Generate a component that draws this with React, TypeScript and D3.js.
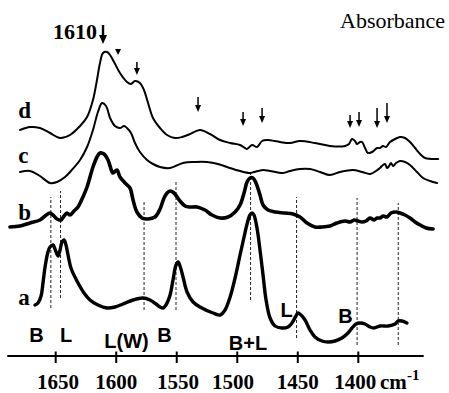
import React, { useEffect } from 'react';
import * as d3 from 'd3';

// ---- data (wavenumber in cm-1, absorbance in arbitrary offset units) ----
const dWn = [1679.5,1671.2,1663.0,1654.7,1646.4,1638.2,1629.9,1624.1,1619.2,1615.9,1613.4,1610.9,1607.6,1605.1,1601.8,1596.9,1591.1,1587.8,1584.5,1580.4,1577.1,1573.7,1569.6,1563.8,1558.0,1551.5,1545.6,1539.0,1530.8,1522.5,1514.2,1505.9,1497.7,1493.6,1491.9,1487.8,1483.7,1479.5,1475.4,1464.7,1456.4,1448.2,1435.8,1423.4,1411.0,1407.7,1405.2,1402.7,1401.1,1398.6,1396.9,1394.4,1392.0,1388.6,1384.5,1382.1,1379.6,1377.1,1373.8,1369.6,1365.5,1361.4,1357.3,1353.1,1348.9,1344.8,1334.0];
const dAbs = [2.26,2.29,2.28,2.23,2.18,2.21,2.30,2.39,2.56,2.76,2.93,3.03,3.04,3.01,2.94,2.83,2.74,2.72,2.75,2.73,2.66,2.53,2.38,2.28,2.21,2.18,2.19,2.22,2.26,2.22,2.16,2.13,2.11,2.08,2.07,2.11,2.09,2.15,2.16,2.14,2.13,2.15,2.13,2.10,2.10,2.12,2.17,2.15,2.12,2.14,2.14,2.08,2.03,2.04,2.08,2.08,2.10,2.09,2.14,2.17,2.19,2.18,2.14,2.08,2.02,1.98,1.97];

const cWn = [1679.5,1671.2,1663.0,1654.7,1648.9,1642.3,1638.2,1629.9,1624.1,1619.2,1615.1,1611.7,1608.4,1605.1,1601.0,1596.9,1593.6,1591.1,1587.8,1584.5,1580.4,1574.5,1569.6,1563.8,1555.5,1544.8,1534.9,1525.0,1515.9,1508.4,1497.7,1489.5,1486.2,1482.9,1478.7,1472.9,1462.2,1456.4,1448.2,1439.9,1431.6,1423.4,1415.1,1404.4,1396.9,1390.3,1385.4,1382.1,1379.6,1377.9,1376.3,1374.6,1373.0,1371.3,1368.8,1365.5,1361.4,1357.3,1351.5,1346.5,1340.7,1334.9];
const cAbs = [1.84,1.85,1.80,1.73,1.74,1.79,1.84,1.96,2.09,2.26,2.44,2.53,2.50,2.38,2.30,2.28,2.30,2.28,2.23,2.13,2.04,1.96,1.92,1.89,1.88,1.93,1.94,1.94,1.92,1.89,1.85,1.83,1.84,1.85,1.86,1.85,1.83,1.85,1.87,1.87,1.84,1.81,1.84,1.86,1.84,1.82,1.85,1.88,1.91,1.92,1.88,1.90,1.93,1.90,1.93,1.95,1.94,1.91,1.84,1.78,1.75,1.73];

const bWn = [1687.8,1679.5,1671.2,1663.0,1658.8,1654.7,1651.4,1648.9,1645.6,1643.1,1640.7,1638.2,1634.9,1631.6,1627.5,1624.1,1619.2,1615.9,1613.4,1610.1,1606.8,1605.1,1602.7,1599.4,1596.9,1592.7,1588.6,1586.1,1582.9,1578.7,1573.7,1568.0,1563.8,1560.5,1558.0,1555.5,1552.2,1547.3,1543.1,1539.0,1533.2,1526.7,1520.9,1514.2,1507.6,1501.8,1497.7,1494.4,1491.9,1489.5,1487.0,1484.5,1481.2,1478.7,1474.6,1468.8,1460.6,1454.0,1448.2,1442.4,1435.8,1430.0,1423.4,1417.6,1411.0,1406.8,1403.5,1400.2,1396.9,1393.6,1390.3,1387.0,1384.5,1382.1,1379.6,1376.3,1373.0,1368.8,1365.5,1361.4,1357.3,1353.1,1348.9,1343.9,1338.2];
const bAbs = [1.29,1.30,1.33,1.36,1.40,1.43,1.40,1.37,1.36,1.40,1.43,1.41,1.45,1.49,1.59,1.69,1.89,1.99,2.03,2.02,1.96,1.90,1.83,1.86,1.79,1.73,1.68,1.56,1.44,1.38,1.37,1.39,1.47,1.58,1.63,1.65,1.63,1.55,1.50,1.49,1.49,1.46,1.41,1.38,1.39,1.44,1.51,1.63,1.74,1.78,1.78,1.73,1.61,1.51,1.46,1.44,1.43,1.42,1.39,1.33,1.29,1.29,1.30,1.33,1.35,1.34,1.36,1.35,1.34,1.35,1.38,1.36,1.38,1.38,1.40,1.39,1.43,1.44,1.43,1.41,1.38,1.34,1.31,1.28,1.27];

const aWn = [1667.1,1664.6,1662.1,1660.5,1658.8,1656.4,1654.7,1652.2,1650.6,1648.1,1646.4,1644.8,1643.1,1641.5,1639.8,1637.4,1632.4,1626.6,1621.7,1615.1,1607.6,1601.0,1594.4,1586.1,1577.9,1572.1,1567.1,1563.8,1561.3,1558.9,1555.5,1553.1,1550.6,1548.9,1547.3,1544.8,1541.5,1536.5,1530.8,1520.0,1514.2,1510.1,1505.9,1501.8,1497.7,1494.4,1491.9,1489.5,1487.8,1486.2,1483.7,1481.2,1478.7,1476.2,1472.9,1468.8,1463.0,1458.1,1454.8,1451.5,1449.8,1447.3,1444.0,1439.9,1435.8,1430.0,1425.0,1419.2,1413.5,1408.5,1405.2,1401.9,1398.6,1394.4,1390.3,1387.0,1382.1,1375.4,1369.6,1367.2,1363.9,1359.8];
const aAbs = [0.51,0.53,0.60,0.73,0.89,1.04,1.09,1.11,1.07,1.00,1.06,1.14,1.16,1.11,1.01,0.88,0.75,0.63,0.56,0.51,0.48,0.49,0.52,0.56,0.58,0.56,0.52,0.49,0.48,0.51,0.61,0.76,0.91,0.94,0.90,0.79,0.64,0.54,0.49,0.43,0.41,0.46,0.59,0.78,1.01,1.19,1.32,1.41,1.43,1.41,1.28,1.06,0.81,0.56,0.38,0.30,0.28,0.29,0.33,0.40,0.43,0.41,0.36,0.26,0.19,0.15,0.14,0.15,0.18,0.23,0.28,0.32,0.33,0.32,0.29,0.28,0.30,0.30,0.32,0.35,0.35,0.33];

const seriesNames = ['a', 'b', 'c', 'd'];
const seriesLabelAbs = [0.51, 1.36, 1.93, 2.38];
const seriesLabelWn = 1681;

const tickValues = [1650, 1600, 1550, 1500, 1450, 1400];
const tickLabelWn = [1648, 1600, 1549, 1503.5, 1450, 1402.5];
const axisDomain = [1690, 1346];

// dashed marker lines: wavenumber, bottom abs, top abs
const dashWn = [1654, 1646, 1577, 1550.6, 1489, 1451, 1401, 1367];
const dashLow = [0.48, 0.58, 0.46, 0.46, 0.56, 0.18, 0.11, 0.11];
const dashHigh = [1.59, 1.65, 1.54, 1.76, 1.84, 1.59, 1.58, 1.53];

// arrows: wavenumber, top abs, bottom abs
const arrowWn = [1582.9, 1532.4, 1495.2, 1479.5, 1406.8, 1399.4, 1384.5, 1376.3];
const arrowTop = [2.94, 2.59, 2.44, 2.48, 2.41, 2.44, 2.48, 2.53];
const arrowBottom = [2.81, 2.44, 2.30, 2.33, 2.28, 2.29, 2.28, 2.33];
const mainArrow = { wn: 1610.9, top: 3.31, bottom: 3.12, label: '1610' };
const triangleMark = { wn: 1598.5, top: 3.07, bottom: 3.01 };

// band assignment labels
const bandText = ['B', 'L', 'L(W)', 'B', 'B+L', 'L', 'B'];
const bandWn = [1665.9, 1641.5, 1591.5, 1560.1, 1491.1, 1459.3, 1410.6];
const bandAbs = [0.14, 0.14, 0.08, 0.14, 0.06, 0.39, 0.33];

const SERIF = '"Liberation Serif", "Times New Roman", serif';
const SANS = '"Liberation Sans", Arial, sans-serif';

export default function App() {
  useEffect(() => {
    document.body.style.margin = '0';
  }, []);

  const W = 449, H = 393;
  const x = d3.scaleLinear().domain([1650, 1400]).range([55.7, 358.3]);
  const y = d3.scaleLinear().domain([0, 3.5]).range([356, 6]);
  const line = d3
    .line<[number, number]>()
    .x((d) => x(d[0]))
    .y((d) => y(d[1]))
    .curve(d3.curveCatmullRom.alpha(0.5));

  const spectra = [
    { wn: aWn, abs: aAbs, w: 3.4 },
    { wn: bWn, abs: bAbs, w: 3.6 },
    { wn: cWn, abs: cAbs, w: 2.0 },
    { wn: dWn, abs: dAbs, w: 2.0 },
  ];

  const arrow = (wn: number, top: number, bottom: number, sw: number, hw: number, hl: number, key: string) => {
    const xx = x(wn);
    const yt = y(top);
    const yb = y(bottom);
    return (
      <g key={key}>
        <line x1={xx} x2={xx} y1={yt} y2={yb - hl + 1} stroke="#000" strokeWidth={sw} />
        <path d={`M${xx - hw / 2},${yb - hl} L${xx + hw / 2},${yb - hl} L${xx},${yb} Z`} fill="#000" />
      </g>
    );
  };

  const axisY = y(0);

  return (
    <svg width={W} height={H} style={{ position: 'absolute', left: 0, top: 0, background: '#fff' }}>
      <rect width={W} height={H} fill="#fff" />
      {dashWn.map((wn, i) => (
        <line
          key={'dash' + i}
          x1={x(wn)}
          x2={x(wn)}
          y1={y(dashLow[i])}
          y2={y(dashHigh[i])}
          stroke="#222"
          strokeWidth={1}
          strokeDasharray="3,2"
        />
      ))}
      {spectra.map((s, i) => (
        <path
          key={'s' + i}
          d={line(s.wn.map((w, j) => [w, s.abs[j]] as [number, number])) || ''}
          fill="none"
          stroke="#000"
          strokeWidth={s.w}
          strokeLinejoin="round"
          strokeLinecap="round"
        />
      ))}
      {seriesNames.map((n, i) => (
        <text
          key={'n' + i}
          x={x(seriesLabelWn)}
          y={y(seriesLabelAbs[i])}
          fontFamily={SERIF}
          fontWeight="bold"
          fontSize={23}
        >
          {n}
        </text>
      ))}
      {arrow(mainArrow.wn, mainArrow.top, mainArrow.bottom, 2.4, 8, 9, 'main')}
      <text
        x={x(mainArrow.wn) - 6}
        y={y(3.17)}
        textAnchor="end"
        fontFamily={SERIF}
        fontWeight="bold"
        fontSize={22}
      >
        {mainArrow.label}
      </text>
      <path
        d={`M${x(triangleMark.wn) - 3},${y(triangleMark.top)} L${x(triangleMark.wn) + 3},${y(triangleMark.top)} L${x(triangleMark.wn)},${y(triangleMark.bottom)} Z`}
        fill="#000"
      />
      {arrowWn.map((wn, i) => arrow(wn, arrowTop[i], arrowBottom[i], 1.5, 6, 7, 'ar' + i))}
      <text x={340} y={28} fontFamily={SERIF} fontSize={22}>
        Absorbance
      </text>
      {bandText.map((t, i) => (
        <text
          key={'b' + i}
          x={x(bandWn[i])}
          y={y(bandAbs[i])}
          textAnchor="middle"
          fontFamily={SANS}
          fontWeight="bold"
          fontSize={20}
        >
          {t}
        </text>
      ))}
      <line x1={x(axisDomain[0])} x2={x(axisDomain[1])} y1={axisY} y2={axisY} stroke="#000" strokeWidth={2} />
      {tickValues.map((t, i) => (
        <g key={'t' + t}>
          <line x1={x(t)} x2={x(t)} y1={axisY - 4.5} y2={axisY + 7} stroke="#000" strokeWidth={2} />
          <text
            x={x(tickLabelWn[i])}
            y={389}
            textAnchor="middle"
            fontFamily={SERIF}
            fontWeight="bold"
            fontSize={21}
          >
            {t}
          </text>
        </g>
      ))}
      <text x={380} y={389} fontFamily={SERIF} fontWeight="bold" fontSize={21}>
        cm
      </text>
      <text x={407} y={380} fontFamily={SERIF} fontWeight="bold" fontSize={15}>
        -1
      </text>
    </svg>
  );
}
